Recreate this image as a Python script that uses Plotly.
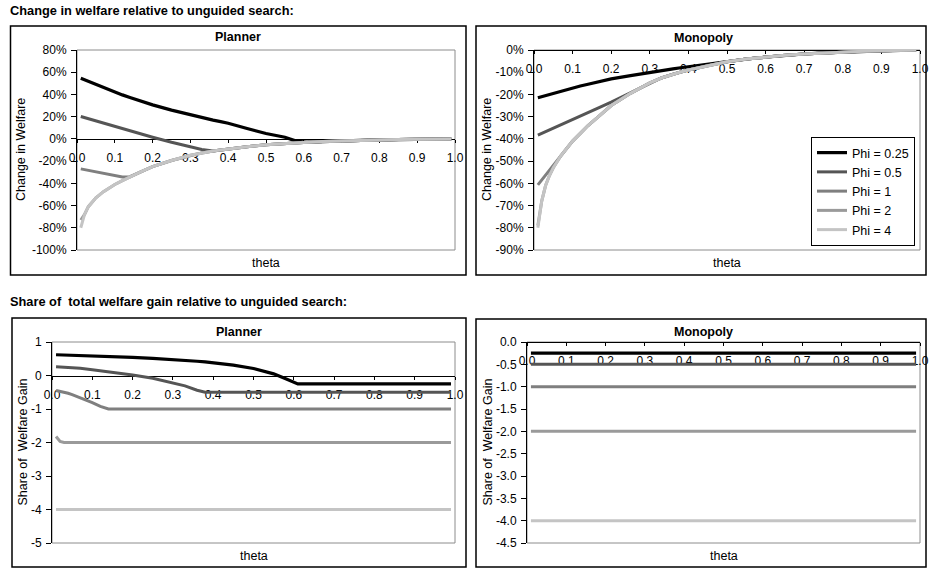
import plotly.graph_objects as go

W, H = 929, 569

# ---------------- data ----------------
THETA = [0.01, 0.02, 0.03, 0.04, 0.05, 0.07, 0.1, 0.12, 0.14, 0.17, 0.2, 0.25, 0.3, 0.33, 0.36,
         0.38, 0.4, 0.45, 0.5, 0.55, 0.58, 0.61, 0.65, 0.7, 0.75, 0.8, 0.85, 0.9, 0.95, 0.99]

SERIES_NAMES = ["Phi = 0.25", "Phi = 0.5", "Phi = 1", "Phi = 2", "Phi = 4"]
SERIES_COLORS = ["#000000", "#555555", "#7f7f7f", "#9a9a9a", "#c4c4c4"]

# Change in welfare (%) - Planner
PLANNER_W_025 = [54.6, 53.2, 51.8, 50.5, 49.2, 46.6, 42.0, 39.6, 37.3, 34.0, 30.6, 25.9, 21.6, 19.2, 16.9,
                 15.5, 14.1, 9.3, 4.8, 1.5, -2.0, -3.0, -2.4, -1.8, -1.3, -0.9, -0.6, -0.35, -0.15, 0.0]
PLANNER_W_05 = [20.1, 19.1, 18.2, 17.3, 16.4, 14.6, 11.5, 9.5, 7.6, 4.7, 1.5, -3.0, -7.3, -9.5, -10.9,
                -9.9, -9.0, -7.0, -5.3, -4.1, -3.5, -3.0, -2.4, -1.8, -1.3, -0.9, -0.6, -0.35, -0.15, 0.0]
PLANNER_W_1 = [-27.0, -27.7, -28.3, -29.0, -29.6, -30.9, -32.9, -34.2, -34.0, -29.5, -25.0, -19.5, -14.8, -12.6, -10.9,
               -9.9, -9.0, -7.0, -5.3, -4.1, -3.5, -3.0, -2.4, -1.8, -1.3, -0.9, -0.6, -0.35, -0.15, 0.0]
PLANNER_W_2 = [-73.0, -68.0, -61.0, -56.5, -53.0, -47.5, -41.0, -37.5, -34.0, -29.5, -25.0, -19.5, -14.8, -12.6, -10.9,
               -9.9, -9.0, -7.0, -5.3, -4.1, -3.5, -3.0, -2.4, -1.8, -1.3, -0.9, -0.6, -0.35, -0.15, 0.0]
PLANNER_W_4 = [-80.0, -68.0, -61.0, -56.5, -53.0, -47.5, -41.0, -37.5, -34.0, -29.5, -25.0, -19.5, -14.8, -12.6, -10.9,
               -9.9, -9.0, -7.0, -5.3, -4.1, -3.5, -3.0, -2.4, -1.8, -1.3, -0.9, -0.6, -0.35, -0.15, 0.0]

# Change in welfare (%) - Monopoly
MONO_W_025 = [-21.5, -21.0, -20.5, -20.0, -19.5, -18.5, -17.0, -16.2, -15.4, -14.2, -13.0, -11.5, -10.0, -9.2, -8.5,
              -8.0, -7.5, -6.3, -5.3, -4.1, -3.5, -3.0, -2.4, -1.8, -1.3, -0.9, -0.6, -0.35, -0.15, 0.0]
MONO_W_05 = [-38.3, -37.5, -36.7, -36.0, -35.2, -33.7, -31.3, -29.8, -28.2, -25.8, -23.5, -19.3, -14.8, -12.6, -10.9,
             -9.9, -9.0, -7.0, -5.3, -4.1, -3.5, -3.0, -2.4, -1.8, -1.3, -0.9, -0.6, -0.35, -0.15, 0.0]
MONO_W_1 = [-60.7, -58.5, -56.3, -54.2, -52.2, -47.3, -41.0, -37.5, -34.0, -29.5, -25.0, -19.5, -14.8, -12.6, -10.9,
            -9.9, -9.0, -7.0, -5.3, -4.1, -3.5, -3.0, -2.4, -1.8, -1.3, -0.9, -0.6, -0.35, -0.15, 0.0]
MONO_W_2 = [-79.0, -68.0, -61.0, -56.5, -53.0, -47.5, -41.0, -37.5, -34.0, -29.5, -25.0, -19.5, -14.8, -12.6, -10.9,
            -9.9, -9.0, -7.0, -5.3, -4.1, -3.5, -3.0, -2.4, -1.8, -1.3, -0.9, -0.6, -0.35, -0.15, 0.0]
MONO_W_4 = [-80.0, -68.0, -61.0, -56.5, -53.0, -47.5, -41.0, -37.5, -34.0, -29.5, -25.0, -19.5, -14.8, -12.6, -10.9,
            -9.9, -9.0, -7.0, -5.3, -4.1, -3.5, -3.0, -2.4, -1.8, -1.3, -0.9, -0.6, -0.35, -0.15, 0.0]

# Share of welfare gain - Planner
PLANNER_S_025 = [0.62, 0.617, 0.614, 0.61, 0.607, 0.60, 0.59, 0.58, 0.57, 0.555, 0.54, 0.51, 0.48, 0.455, 0.425,
                 0.405, 0.38, 0.31, 0.21, 0.05, -0.10, -0.25, -0.25, -0.25, -0.25, -0.25, -0.25, -0.25, -0.25, -0.25]
PLANNER_S_05 = [0.26, 0.255, 0.25, 0.24, 0.235, 0.215, 0.17, 0.14, 0.11, 0.065, 0.015, -0.08, -0.21, -0.31, -0.44,
                -0.5, -0.5, -0.5, -0.5, -0.5, -0.5, -0.5, -0.5, -0.5, -0.5, -0.5, -0.5, -0.5, -0.5, -0.5]
PLANNER_S_1 = [-0.45, -0.47, -0.50, -0.53, -0.57, -0.66, -0.81, -0.92, -1.0, -1.0, -1.0, -1.0, -1.0, -1.0, -1.0,
               -1.0, -1.0, -1.0, -1.0, -1.0, -1.0, -1.0, -1.0, -1.0, -1.0, -1.0, -1.0, -1.0, -1.0, -1.0]
PLANNER_S_2 = [-1.82, -1.97, -2.0, -2.0, -2.0, -2.0, -2.0, -2.0, -2.0, -2.0, -2.0, -2.0, -2.0, -2.0, -2.0,
               -2.0, -2.0, -2.0, -2.0, -2.0, -2.0, -2.0, -2.0, -2.0, -2.0, -2.0, -2.0, -2.0, -2.0, -2.0]
PLANNER_S_4 = [-4.0] * 30

# Share of welfare gain - Monopoly
MONO_S_025 = [-0.25] * 30
MONO_S_05 = [-0.5] * 30
MONO_S_1 = [-1.0] * 30
MONO_S_2 = [-2.0] * 30
MONO_S_4 = [-4.0] * 30

# ticks
X_TICKS = [0.0, 0.1, 0.2, 0.3, 0.4, 0.5, 0.6, 0.7, 0.8, 0.9, 1.0]
X_LABELS = ["0.0", "0.1", "0.2", "0.3", "0.4", "0.5", "0.6", "0.7", "0.8", "0.9", "1.0"]
TL_Y_TICKS = [80, 60, 40, 20, 0, -20, -40, -60, -80, -100]
TL_Y_LABELS = ["80%", "60%", "40%", "20%", "0%", "-20%", "-40%", "-60%", "-80%", "-100%"]
TR_Y_TICKS = [0, -10, -20, -30, -40, -50, -60, -70, -80, -90]
TR_Y_LABELS = ["0%", "-10%", "-20%", "-30%", "-40%", "-50%", "-60%", "-70%", "-80%", "-90%"]
BL_Y_TICKS = [1, 0, -1, -2, -3, -4, -5]
BL_Y_LABELS = ["1", "0", "-1", "-2", "-3", "-4", "-5"]
BR_Y_TICKS = [0.0, -0.5, -1.0, -1.5, -2.0, -2.5, -3.0, -3.5, -4.0, -4.5]
BR_Y_LABELS = ["0.0", "-0.5", "-1.0", "-1.5", "-2.0", "-2.5", "-3.0", "-3.5", "-4.0", "-4.5"]

SECTION_TITLES = ["Change in welfare relative to unguided search:",
                  "Share of  total welfare gain relative to unguided search:"]

# ---------------- layout helpers ----------------
FONT = "Liberation Sans, Arial, sans-serif"


def fx(px):
    return px / W


def fy(py):
    return 1 - py / H


panels = [
    dict(title="Planner", ytitle="Change in Welfare",
         series=[PLANNER_W_025, PLANNER_W_05, PLANNER_W_1, PLANNER_W_2, PLANNER_W_4],
         yrange=[-100, 80], yticks=TL_Y_TICKS, ylabels=TL_Y_LABELS,
         plot=(77, 455, 50, 250), box=(10.5, 466, 26, 275), title_xy=(238, 37),
         ytitle_x=21, theta_y=263, legend=False),
    dict(title="Monopoly", ytitle="Change in Welfare",
         series=[MONO_W_025, MONO_W_05, MONO_W_1, MONO_W_2, MONO_W_4],
         yrange=[-90, 0], yticks=TR_Y_TICKS, ylabels=TR_Y_LABELS,
         plot=(534, 920, 50, 250), box=(476, 926, 26, 275), title_xy=(703, 38),
         ytitle_x=487, theta_y=263, legend=True),
    dict(title="Planner", ytitle="Share of  Welfare Gain",
         series=[PLANNER_S_025, PLANNER_S_05, PLANNER_S_1, PLANNER_S_2, PLANNER_S_4],
         yrange=[-5, 1], yticks=BL_Y_TICKS, ylabels=BL_Y_LABELS,
         plot=(52, 455, 342, 543), box=(12, 466, 318, 567), title_xy=(239, 332),
         ytitle_x=22, theta_y=556, legend=False),
    dict(title="Monopoly", ytitle="Share of  Welfare Gain",
         series=[MONO_S_025, MONO_S_05, MONO_S_1, MONO_S_2, MONO_S_4],
         yrange=[-4.5, 0], yticks=BR_Y_TICKS, ylabels=BR_Y_LABELS,
         plot=(527, 920, 342, 543), box=(476, 926, 319, 567), title_xy=(703, 332),
         ytitle_x=487, theta_y=556, legend=False),
]

fig = go.Figure()
layout = dict(
    width=W, height=H, autosize=False,
    margin=dict(l=0, r=0, t=0, b=0, pad=0, autoexpand=False),
    paper_bgcolor="white", plot_bgcolor="white",
    font=dict(family=FONT, size=12, color="black"),
    showlegend=True,
    legend=dict(x=fx(915), y=fy(246), xanchor="right", yanchor="bottom",
                bgcolor="white", bordercolor="black", borderwidth=1,
                font=dict(size=12.5, family=FONT), itemwidth=30,
                tracegroupgap=0),
)
shapes = []
annotations = []

for i, p in enumerate(panels, start=1):
    xa = "x" if i == 1 else f"x{i}"
    ya = "y" if i == 1 else f"y{i}"
    xl = "xaxis" if i == 1 else f"xaxis{i}"
    yl = "yaxis" if i == 1 else f"yaxis{i}"
    x0, x1, y0, y1 = p["plot"]
    xdom = [fx(x0), fx(x1)]
    ydom = [fy(y1), fy(y0)]
    r0, r1 = p["yrange"]
    zero_pos = ydom[0] + (0 - r0) / (r1 - r0) * (ydom[1] - ydom[0])

    for name, color, vals in zip(SERIES_NAMES, SERIES_COLORS, p["series"]):
        fig.add_trace(go.Scatter(
            x=THETA, y=vals, mode="lines", name=name,
            line=dict(color=color, width=3.2 if color == "#000000" else 3),
            xaxis=xa, yaxis=ya, showlegend=p["legend"], hoverinfo="skip"))

    layout[xl] = dict(domain=xdom, range=[0, 1], anchor="free", position=zero_pos,
                      tickvals=X_TICKS, ticktext=X_LABELS, ticks="outside", ticklen=3,
                      tickcolor="black", showline=True, linecolor="black", linewidth=1,
                      showgrid=False, zeroline=False, tickfont=dict(size=12),
                      ticklabelstandoff=5, layer="below traces", fixedrange=True,
                      automargin=False)
    layout[yl] = dict(domain=ydom, range=[r0, r1], anchor=xa,
                      tickvals=p["yticks"], ticktext=p["ylabels"], ticks="outside", ticklen=5,
                      tickcolor="black", showline=True, linecolor="black", linewidth=1,
                      showgrid=False, zeroline=False, tickfont=dict(size=12),
                      ticklabelstandoff=2, layer="below traces", fixedrange=True,
                      automargin=False)

    # plot-area border (gray)
    shapes.append(dict(type="rect", xref=f"{xa} domain", yref=f"{ya} domain",
                       x0=0, x1=1, y0=0, y1=1, line=dict(color="#8c8c8c", width=1),
                       layer="below"))
    # chart-area border (black)
    bx0, bx1, by0, by1 = p["box"]
    shapes.append(dict(type="rect", xref="paper", yref="paper",
                       x0=fx(bx0), x1=fx(bx1), y0=fy(by1), y1=fy(by0),
                       line=dict(color="black", width=1.5), layer="above"))
    # titles
    tx, ty = p["title_xy"]
    annotations.append(dict(text=f"<b>{p['title']}</b>", xref="paper", yref="paper",
                            x=fx(tx), y=fy(ty), xanchor="center", yanchor="middle",
                            showarrow=False, font=dict(size=12.5)))
    annotations.append(dict(text="theta", xref="paper", yref="paper",
                            x=(xdom[0] + xdom[1]) / 2, y=fy(p["theta_y"]),
                            xanchor="center", yanchor="middle",
                            showarrow=False, font=dict(size=12.5)))
    annotations.append(dict(text=p["ytitle"], xref="paper", yref="paper",
                            x=fx(p["ytitle_x"]), y=(ydom[0] + ydom[1]) / 2,
                            xanchor="center", yanchor="middle", textangle=-90,
                            showarrow=False, font=dict(size=12.5)))

annotations.append(dict(text=f"<b>{SECTION_TITLES[0]}</b>", xref="paper", yref="paper",
                        x=fx(8), y=fy(11), xanchor="left", yanchor="middle",
                        showarrow=False, font=dict(size=12.8)))
annotations.append(dict(text=f"<b>{SECTION_TITLES[1]}</b>", xref="paper", yref="paper",
                        x=fx(8), y=fy(302), xanchor="left", yanchor="middle",
                        showarrow=False, font=dict(size=12.8)))

layout["shapes"] = shapes
layout["annotations"] = annotations
fig.update_layout(**layout)
fig.write_html("out.html",
               config={"displayModeBar": False},
               post_script="document.body.style.margin='0';"
                           "document.body.style.overflow='hidden';")
